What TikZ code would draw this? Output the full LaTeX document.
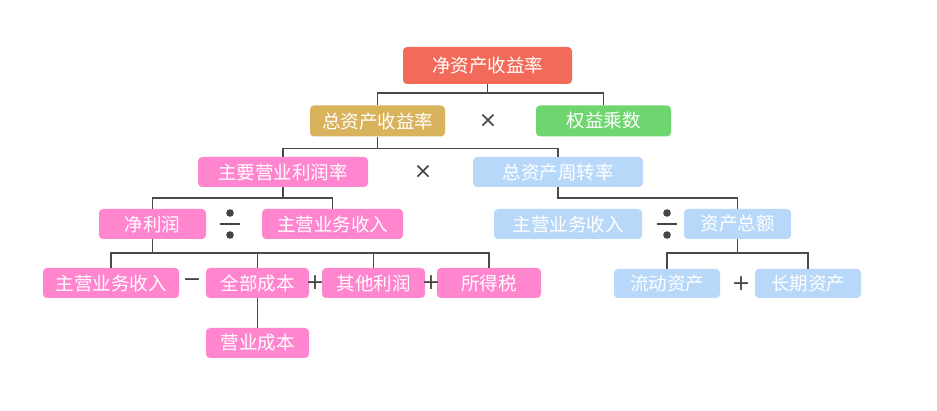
\documentclass[tikz,border=0pt]{standalone}
\usepackage{fontspec}
\usetikzlibrary{calc}
\newfontfamily\cjk{Noto Sans CJK SC}
\newfontfamily\symfont{DejaVu Sans}
\definecolor{cred}{HTML}{F26B5A}
\definecolor{cgold}{HTML}{D9B25C}
\definecolor{cgreen}{HTML}{6FD66F}
\definecolor{cblue}{HTML}{B8D8FA}
\definecolor{cpink}{HTML}{FF85CF}
\definecolor{cline}{HTML}{4A4A4A}
\definecolor{cop}{HTML}{444444}
\tikzset{
  box/.style={rectangle, rounded corners=4pt, inner sep=0pt, text=white,
    font=\cjk\fontsize{18.5}{20}\selectfont, minimum height=30pt},
  conn/.style={draw=cline, line width=1.5pt},
  opsym/.style={inner sep=0pt, text=cop, font=\symfont\fontsize{22}{24}\selectfont},
}
\begin{document}
\begin{tikzpicture}[x=1pt,y=-1pt]
\useasboundingbox[fill=white] (0,0) rectangle (937,411);
% nodes
\node[box, fill=cred, minimum width=169pt, minimum height=37pt] (n1) at (487.5,65.5) {净资产收益率};
\node[box, fill=cgold, minimum width=135pt, minimum height=31pt] (n2) at (377.5,121) {总资产收益率};
\node[box, fill=cgreen, minimum width=135pt, minimum height=31pt] (n3) at (603.5,121) {权益乘数};
\node[box, fill=cpink, minimum width=170pt] (n4) at (283,172) {主要营业利润率};
\node[box, fill=cblue, minimum width=170pt] (n5) at (558,172) {总资产周转率};
\node[box, fill=cpink, minimum width=107pt] (n6) at (152.5,224) {净利润};
\node[box, fill=cpink, minimum width=141pt] (n7) at (332.5,224) {主营业务收入};
\node[box, fill=cblue, minimum width=148pt] (n8) at (568,224) {主营业务收入};
\node[box, fill=cblue, minimum width=107pt] (n9) at (737.5,224) {资产总额};
\node[box, fill=cpink, minimum width=136pt] (n10) at (111,283) {主营业务收入};
\node[box, fill=cpink, minimum width=103pt] (n11) at (257.5,283) {全部成本};
\node[box, fill=cpink, minimum width=103pt] (n12) at (373.5,283) {其他利润};
\node[box, fill=cpink, minimum width=104pt] (n13) at (489,283) {所得税};
\node[box, fill=cpink, minimum width=103pt] (n14) at (257.5,343) {营业成本};
\node[box, fill=cblue, minimum width=106pt, minimum height=29pt] (n15) at (667,283.5) {流动资产};
\node[box, fill=cblue, minimum width=106pt, minimum height=29pt] (n16) at (808,283.5) {长期资产};
% operators
\node[opsym] (o1) at (488,121) {×};
\node[opsym] (o2) at (423,172) {×};
\node[opsym] (o3) at (192,283) {−};
\node[opsym] (o4) at (315,283) {+};
\node[opsym] (o5) at (431,283) {+};
\node[opsym] (o6) at (741,284) {+};
% division signs
\coordinate (d1) at (230,224);
\coordinate (d2) at (667,224);
\foreach \d in {d1,d2}{
  \fill[cop] ($(\d)+(0,-11)$) circle (3.8pt);
  \fill[cop] ($(\d)+(0,11)$) circle (3.8pt);
  \draw[cop, line width=1.3pt] ($(\d)+(-10,0)$) -- ($(\d)+(10,0)$);
}
% connectors
\draw[conn] (n1.south) -- ++(0,9) -| (n2.north);
\draw[conn] (n1.south) -- ++(0,9) -| (n3.north);
\draw[conn] (n2.south) -- ++(0,12) -| (n4.north);
\draw[conn] (n2.south) -- ++(0,12) -| (n5.north);
\draw[conn] (n4.south) -- ++(0,11) -| (n6.north);
\draw[conn] (n4.south) -- ++(0,11) -| (n7.north);
\draw[conn] (n5.south) -- ++(0,11) -| (n9.north);
\draw[conn] (n6.south) -- ++(0,14) -| (n10.north);
\draw[conn] (n6.south) -- ++(0,14) -| (n11.north);
\draw[conn] (n6.south) -- ++(0,14) -| (n12.north);
\draw[conn] (n6.south) -- ++(0,14) -| (n13.north);
\draw[conn] (n11.south) -- (n14.north);
\draw[conn] (n9.south) -- ++(0,14) -| (n15.north);
\draw[conn] (n9.south) -- ++(0,14) -| (n16.north);
\end{tikzpicture}
\end{document}
